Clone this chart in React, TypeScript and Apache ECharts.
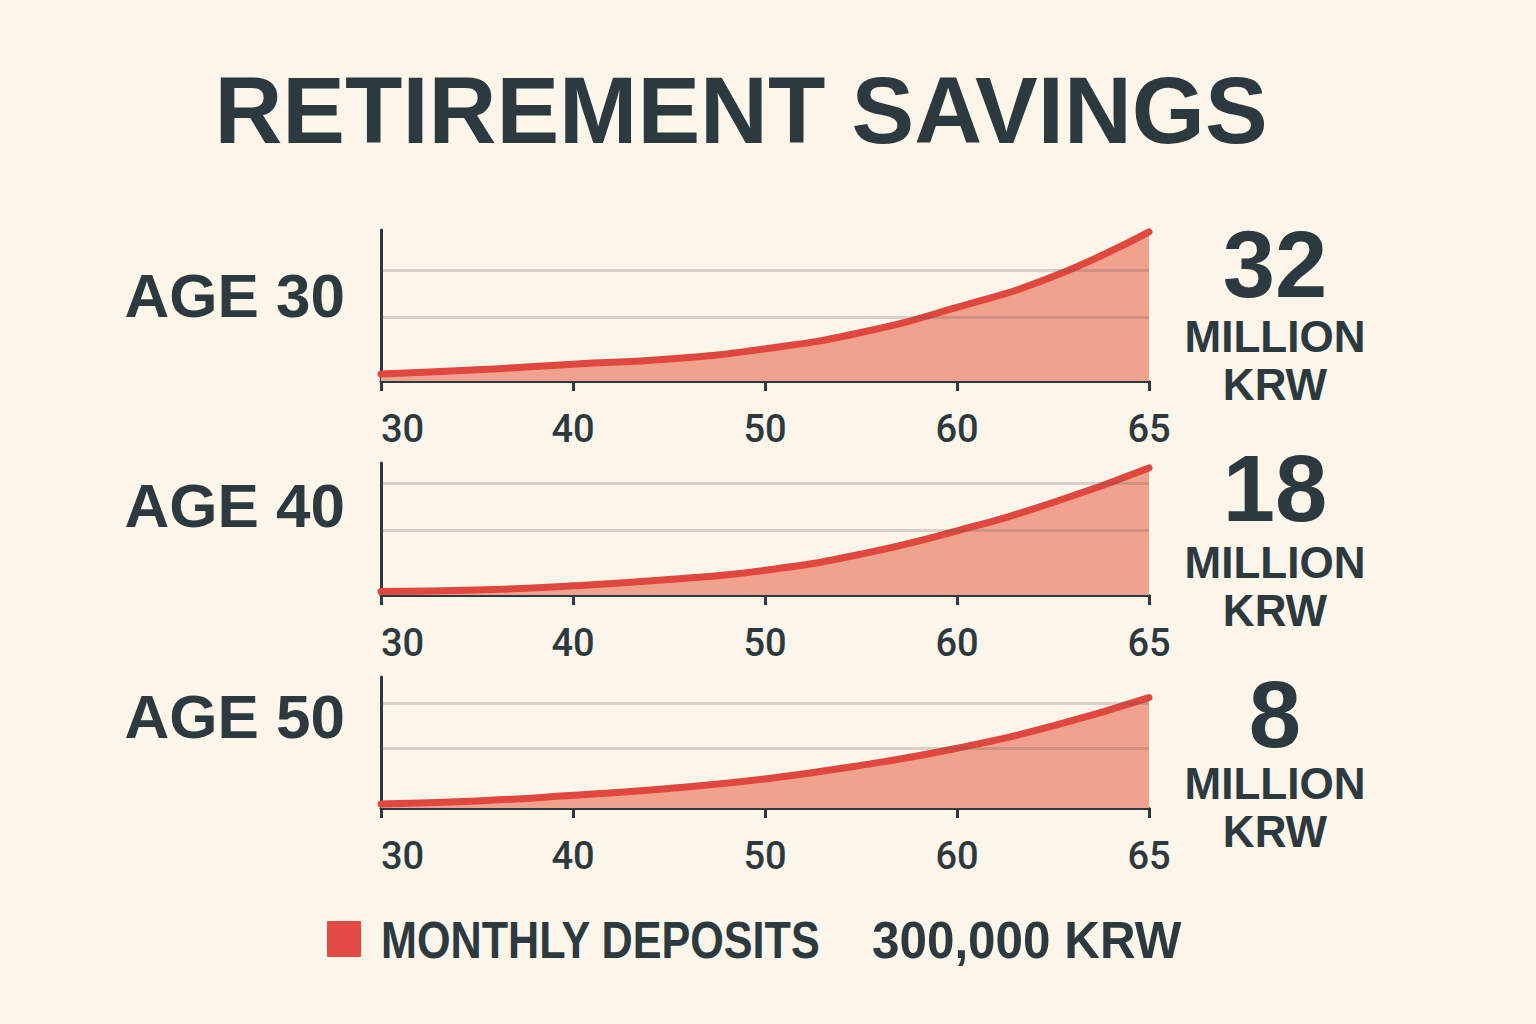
import React, { useEffect, useRef } from "react";
import * as echarts from "echarts";

// ---------- data ----------
const ages = ["30", "35", "40", "45", "50", "55", "60", "62.5", "65"];
const tickAges = ["30", "40", "50", "60", "65"];

const savingsFrom30 = [1.5, 2.4, 3.6, 4.7, 6.9, 10.4, 15.8, 22.4, 32];
const savingsFrom40 = [0.5, 0.7, 1.3, 2.2, 3.5, 5.8, 9.1, 13.1, 18];
const savingsFrom50 = [0.29, 0.51, 0.92, 1.42, 2.11, 3.09, 4.33, 5.95, 8];

const gridLevels30 = [13.7, 23.8];
const gridLevels40 = [9.2, 15.9];
const gridLevels50 = [4.36, 7.6];

const startLabels = ["AGE 30", "AGE 40", "AGE 50"];
const totals = ["32", "18", "8"];
const unitLines = ["MILLION", "KRW"];
const titleText = "RETIREMENT SAVINGS";
const legendLabel = "MONTHLY DEPOSITS";
const legendValue = "300,000 KRW";

// ---------- style ----------
const BG = "#fbf5ea";
const DARK = "#2c3a3f";
const LINE = "#e0473f";
const AREA = "#f1a28e";
const HEAVY = "'Liberation Sans', Arial, sans-serif";

const panels = [
  { data: savingsFrom30, levels: gridLevels30, max: 32.4, top: 230, height: 151 },
  { data: savingsFrom40, levels: gridLevels40, max: 18.7, top: 463, height: 132 },
  { data: savingsFrom50, levels: gridLevels50, max: 9.5, top: 677, height: 131 },
];
const sideY = [
  { label: 295, total: 264, m: 336, k: 384 },
  { label: 505, total: 488, m: 562, k: 610 },
  { label: 716, total: 714, m: 783, k: 831 },
];

export default function App() {
  const ref = useRef<HTMLDivElement>(null);
  useEffect(() => {
    document.body.style.margin = "0";
    document.body.style.background = BG;
    const chart = echarts.init(ref.current!, null, { renderer: "svg" });

    const grids = panels.map((p) => ({
      left: 381,
      width: 768,
      top: p.top,
      height: p.height,
      containLabel: false,
    }));
    const xAxes = panels.map((_, i) => ({
      type: "category",
      gridIndex: i,
      data: ages,
      boundaryGap: false,
      axisLine: { show: true, lineStyle: { color: DARK, width: 3 } },
      axisTick: {
        show: true,
        length: 10,
        interval: (_idx: number, val: string) => tickAges.includes(val),
        lineStyle: { color: DARK, width: 3 },
      },
      axisLabel: {
        show: true,
        interval: (_idx: number, val: string) => tickAges.includes(val),
        color: DARK,
        fontFamily: "Roboto, sans-serif",
        fontWeight: 500,
        fontSize: 38,
        margin: 29,
        alignMinLabel: "left",
      },
      splitLine: { show: false },
    }));
    const yAxes = panels.map((p, i) => ({
      type: "value",
      gridIndex: i,
      min: 0,
      max: p.max,
      axisLine: { show: true, lineStyle: { color: DARK, width: 3 } },
      axisTick: { show: false },
      axisLabel: { show: false },
      splitLine: { show: false },
    }));
    const series = panels.map((p, i) => ({
      type: "line",
      xAxisIndex: i,
      yAxisIndex: i,
      data: p.data,
      smooth: 0.5,
      symbol: "none",
      lineStyle: { color: LINE, width: 7, cap: "round" },
      areaStyle: { color: AREA, opacity: 1 },
      z: 2,
      markLine: {
        silent: true,
        symbol: "none",
        label: { show: false },
        lineStyle: { color: "rgba(90,80,80,0.22)", width: 3, type: "solid" },
        data: p.levels.map((v) => ({ yAxis: v })),
      },
    }));

    const txt = (
      text: string,
      x: number,
      y: number,
      size: number,
      align: string,
      scaleX = 1
    ) => ({
      type: "text",
      x,
      y,
      scaleX,
      style: {
        text,
        fontSize: size,
        lineHeight: Math.round(size * 0.9),
        fontWeight: "bold",
        fontFamily: HEAVY,
        fill: DARK,
        textAlign: align,
        textVerticalAlign: "middle",
      },
    });

    const graphics: any[] = [txt(titleText, 741, 110, 94, "center")];
    sideY.forEach((s, i) => {
      graphics.push(txt(startLabels[i], 345, s.label, 62, "right"));
      graphics.push(txt(totals[i], 1275, s.total, 94, "center"));
      graphics.push(txt(unitLines[0], 1275, s.m, 44, "center"));
      graphics.push(txt(unitLines[1], 1275, s.k, 44, "center"));
    });
    graphics.push({
      type: "rect",
      shape: { x: 327, y: 921, width: 34, height: 36 },
      style: { fill: "#e24a43" },
    });
    graphics.push(txt(legendLabel, 381, 940, 52, "left", 0.83));
    graphics.push(txt(legendValue, 872, 940, 52, "left", 0.95));

    chart.setOption({
      animation: false,
      backgroundColor: BG,
      grid: grids,
      xAxis: xAxes,
      yAxis: yAxes,
      series,
      graphic: graphics,
    });
    return () => chart.dispose();
  }, []);
  return (
    <div
      ref={ref}
      style={{ position: "absolute", left: 0, top: 0, width: 1536, height: 1024 }}
    />
  );
}
